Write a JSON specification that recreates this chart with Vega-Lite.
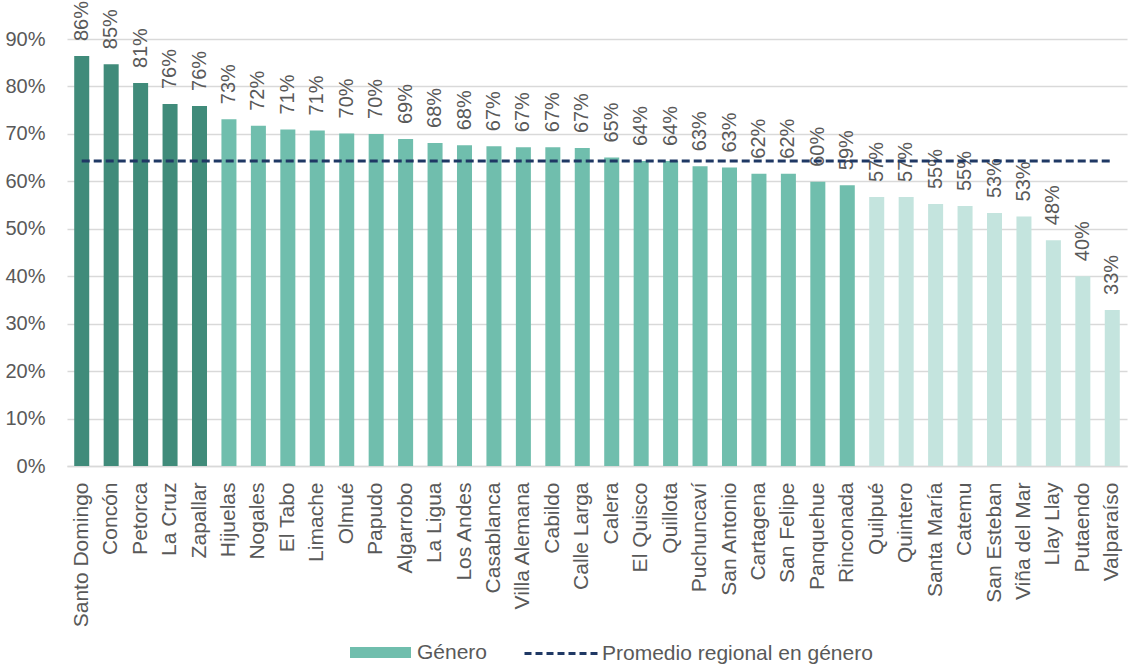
{
  "$schema": "https://vega.github.io/schema/vega-lite/v6.json",
  "autosize": {"type": "none"},
  "width": 1060,
  "height": 427,
  "padding": {"left": 67, "top": 39, "right": 2, "bottom": 199},
  "background": "white",
  "config": {
    "view": {"stroke": null},
    "font": "Liberation Sans",
    "axis": {"labelFont": "Liberation Sans", "labelColor": "#595959", "titleColor": "#595959"},
    "legend": {"labelFont": "Liberation Sans", "labelColor": "#595959", "labelLimit": 500}
  },
  "data": {
    "values": [
      {"municipio": "Santo Domingo", "valor": 0.864, "grupo": "Alto", "serie": "Promedio regional en género", "promedio": 0.643},
      {"municipio": "Concón", "valor": 0.847, "grupo": "Alto", "serie": "Promedio regional en género", "promedio": 0.643},
      {"municipio": "Petorca", "valor": 0.807, "grupo": "Alto", "serie": "Promedio regional en género", "promedio": 0.643},
      {"municipio": "La Cruz", "valor": 0.763, "grupo": "Alto", "serie": "Promedio regional en género", "promedio": 0.643},
      {"municipio": "Zapallar", "valor": 0.759, "grupo": "Alto", "serie": "Promedio regional en género", "promedio": 0.643},
      {"municipio": "Hijuelas", "valor": 0.731, "grupo": "Género", "serie": "Promedio regional en género", "promedio": 0.643},
      {"municipio": "Nogales", "valor": 0.717, "grupo": "Género", "serie": "Promedio regional en género", "promedio": 0.643},
      {"municipio": "El Tabo", "valor": 0.709, "grupo": "Género", "serie": "Promedio regional en género", "promedio": 0.643},
      {"municipio": "Limache", "valor": 0.707, "grupo": "Género", "serie": "Promedio regional en género", "promedio": 0.643},
      {"municipio": "Olmué", "valor": 0.701, "grupo": "Género", "serie": "Promedio regional en género", "promedio": 0.643},
      {"municipio": "Papudo", "valor": 0.700, "grupo": "Género", "serie": "Promedio regional en género", "promedio": 0.643},
      {"municipio": "Algarrobo", "valor": 0.689, "grupo": "Género", "serie": "Promedio regional en género", "promedio": 0.643},
      {"municipio": "La Ligua", "valor": 0.681, "grupo": "Género", "serie": "Promedio regional en género", "promedio": 0.643},
      {"municipio": "Los Andes", "valor": 0.676, "grupo": "Género", "serie": "Promedio regional en género", "promedio": 0.643},
      {"municipio": "Casablanca", "valor": 0.674, "grupo": "Género", "serie": "Promedio regional en género", "promedio": 0.643},
      {"municipio": "Villa Alemana", "valor": 0.672, "grupo": "Género", "serie": "Promedio regional en género", "promedio": 0.643},
      {"municipio": "Cabildo", "valor": 0.672, "grupo": "Género", "serie": "Promedio regional en género", "promedio": 0.643},
      {"municipio": "Calle Larga", "valor": 0.670, "grupo": "Género", "serie": "Promedio regional en género", "promedio": 0.643},
      {"municipio": "Calera", "valor": 0.650, "grupo": "Género", "serie": "Promedio regional en género", "promedio": 0.643},
      {"municipio": "El Quisco", "valor": 0.643, "grupo": "Género", "serie": "Promedio regional en género", "promedio": 0.643},
      {"municipio": "Quillota", "valor": 0.643, "grupo": "Género", "serie": "Promedio regional en género", "promedio": 0.643},
      {"municipio": "Puchuncaví", "valor": 0.632, "grupo": "Género", "serie": "Promedio regional en género", "promedio": 0.643},
      {"municipio": "San Antonio", "valor": 0.629, "grupo": "Género", "serie": "Promedio regional en género", "promedio": 0.643},
      {"municipio": "Cartagena", "valor": 0.616, "grupo": "Género", "serie": "Promedio regional en género", "promedio": 0.643},
      {"municipio": "San Felipe", "valor": 0.616, "grupo": "Género", "serie": "Promedio regional en género", "promedio": 0.643},
      {"municipio": "Panquehue", "valor": 0.599, "grupo": "Género", "serie": "Promedio regional en género", "promedio": 0.643},
      {"municipio": "Rinconada", "valor": 0.592, "grupo": "Género", "serie": "Promedio regional en género", "promedio": 0.643},
      {"municipio": "Quilpué", "valor": 0.567, "grupo": "Bajo", "serie": "Promedio regional en género", "promedio": 0.643},
      {"municipio": "Quintero", "valor": 0.567, "grupo": "Bajo", "serie": "Promedio regional en género", "promedio": 0.643},
      {"municipio": "Santa María", "valor": 0.552, "grupo": "Bajo", "serie": "Promedio regional en género", "promedio": 0.643},
      {"municipio": "Catemu", "valor": 0.548, "grupo": "Bajo", "serie": "Promedio regional en género", "promedio": 0.643},
      {"municipio": "San Esteban", "valor": 0.533, "grupo": "Bajo", "serie": "Promedio regional en género", "promedio": 0.643},
      {"municipio": "Viña del Mar", "valor": 0.526, "grupo": "Bajo", "serie": "Promedio regional en género", "promedio": 0.643},
      {"municipio": "Llay Llay", "valor": 0.476, "grupo": "Bajo", "serie": "Promedio regional en género", "promedio": 0.643},
      {"municipio": "Putaendo", "valor": 0.400, "grupo": "Bajo", "serie": "Promedio regional en género", "promedio": 0.643},
      {"municipio": "Valparaíso", "valor": 0.329, "grupo": "Bajo", "serie": "Promedio regional en género", "promedio": 0.643}
    ]
  },
  "encoding": {
    "x": {
      "field": "municipio",
      "type": "nominal",
      "sort": null,
      "scale": {"paddingInner": 0.49, "paddingOuter": 0.245},
      "axis": {
        "title": null,
        "labelAngle": -90,
        "labelAlign": "right",
        "labelBaseline": "middle",
        "labelFontSize": 21,
        "labelColor": "#595959",
        "labelPadding": 16,
        "labelLimit": 300,
        "ticks": false,
        "domain": true,
        "domainColor": "#d9d9d9",
        "domainWidth": 1.5
      }
    }
  },
  "layer": [
    {
      "mark": {"type": "bar"},
      "encoding": {
        "y": {
          "field": "valor",
          "type": "quantitative",
          "scale": {"domain": [0, 0.9], "nice": false},
          "axis": {
            "title": null,
            "format": ".0%",
            "values": [0, 0.1, 0.2, 0.3, 0.4, 0.5, 0.6, 0.7, 0.8, 0.9],
            "labelFontSize": 20,
            "labelColor": "#595959",
            "labelPadding": 22,
            "ticks": false,
            "domain": false,
            "gridColor": "#d9d9d9",
            "gridWidth": 1.3
          }
        },
        "fill": {
          "field": "grupo",
          "type": "nominal",
          "scale": {"domain": ["Alto", "Género", "Bajo"], "range": ["#408B7A", "#70BEAD", "#C4E4DE"]},
          "legend": {
            "values": ["Género"],
            "title": null,
            "orient": "none",
            "legendX": 283,
            "legendY": 583,
            "direction": "horizontal",
            "symbolType": "M-1,-0.18H1V0.18H-1Z",
            "symbolSize": 3721,
            "symbolStrokeWidth": 0,
            "labelFontSize": 21,
            "labelColor": "#595959",
            "labelOffset": 6,
            "labelLimit": 500,
            "padding": 0
          }
        }
      }
    },
    {
      "mark": {"type": "text", "angle": 270, "align": "left", "baseline": "middle", "dx": 15, "fontSize": 20, "color": "#595959"},
      "encoding": {
        "y": {"field": "valor", "type": "quantitative"},
        "text": {"field": "valor", "type": "quantitative", "format": ".0%"}
      }
    },
    {
      "mark": {"type": "line", "strokeDash": [8, 4], "strokeWidth": 3},
      "encoding": {
        "y": {"field": "promedio", "type": "quantitative"},
        "stroke": {
          "field": "serie",
          "type": "nominal",
          "scale": {"range": ["#1F3864"]},
          "legend": {
            "title": null,
            "orient": "none",
            "legendX": 456,
            "legendY": 576,
            "direction": "horizontal",
            "symbolType": "stroke",
            "symbolSize": 5476,
            "symbolStrokeWidth": 3,
            "symbolDash": [7, 4],
            "labelFontSize": 21,
            "labelColor": "#595959",
            "labelOffset": 2,
            "labelLimit": 500,
            "padding": 0
          }
        }
      }
    }
  ]
}
